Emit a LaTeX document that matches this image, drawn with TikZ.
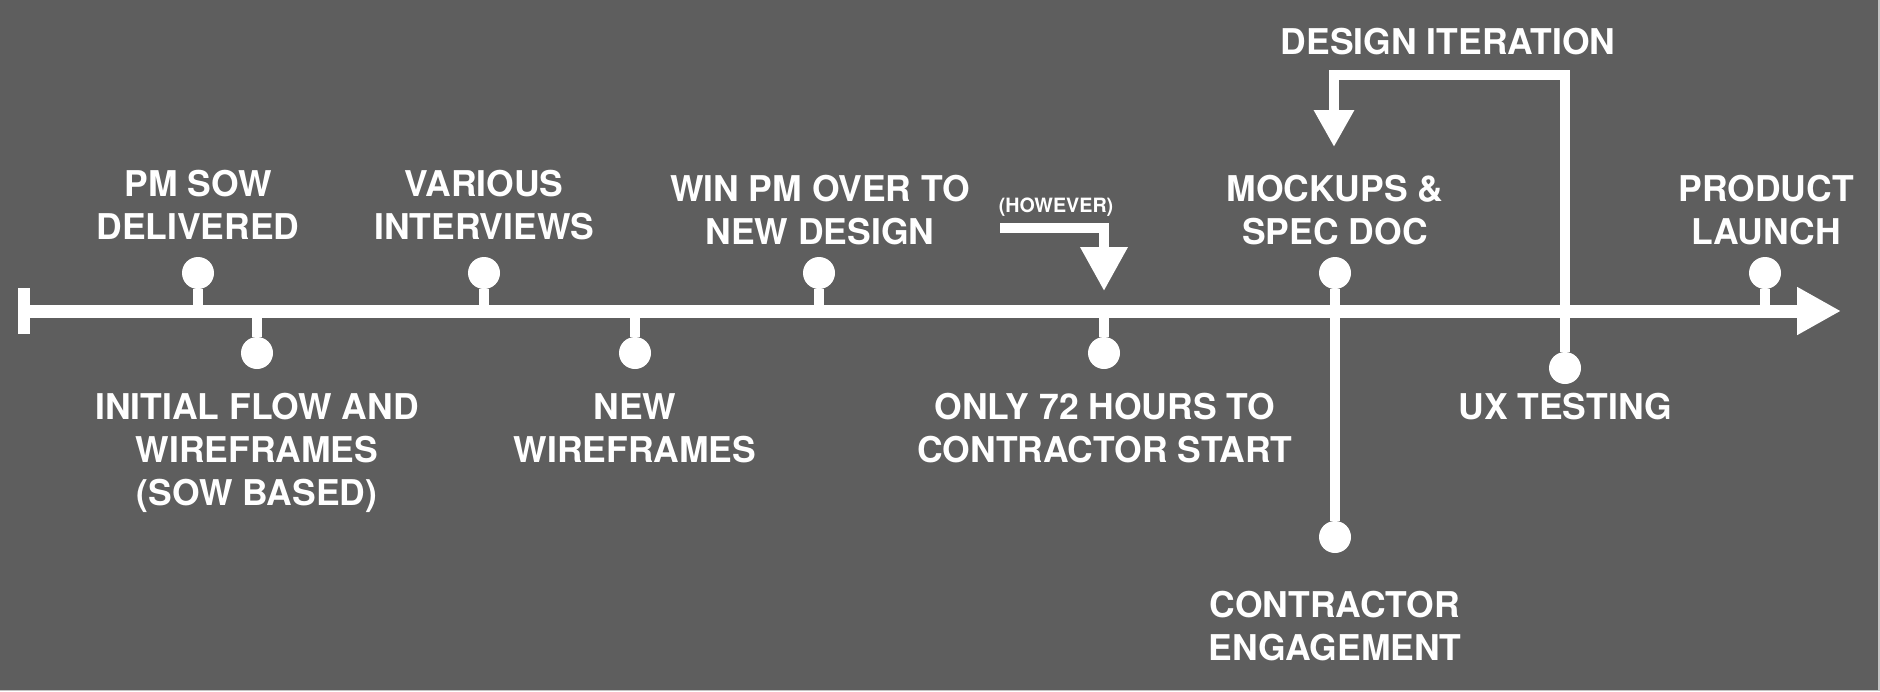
\documentclass[tikz,border=0pt]{standalone}
\usepackage{fontspec}
\setmainfont{TeX Gyre Heros}
\usetikzlibrary{arrows.meta}
\definecolor{bg}{HTML}{5E5E5E}
\definecolor{edgegray}{HTML}{C4C4C4}
\begin{document}
\begin{tikzpicture}[x=0.5pt,y=-0.5pt,
  lbl/.style={text=white, font=\fontsize{17.75}{21.5}\selectfont\bfseries, align=center, anchor=base, inner sep=0pt},
  smalllbl/.style={text=white, font=\fontsize{9.85}{12}\selectfont\bfseries, anchor=base, inner sep=0pt},
  dot/.style={circle, fill=white, minimum size=16pt, inner sep=0pt},
  stem/.style={draw=white, line width=5pt},
  axisline/.style={draw=white, line width=6.5pt, -{Triangle[length=22pt, width=22.5pt]}},
  bigarrow/.style={draw=white, line width=5pt, -{Triangle[length=22pt, width=22.5pt]}},
  looparrow/.style={draw=white, line width=5pt, -{Triangle[length=18.5pt, width=19pt]}},
]
\useasboundingbox (0,0) rectangle (1880,691);
\fill[bg] (0,0) rectangle (1880,691);
\fill[edgegray] (0,689.5) rectangle (1880,691);
\fill[edgegray] (1877.5,0) rectangle (1880,691);

% axis
\node[fill=white, minimum width=6pt, minimum height=23pt, inner sep=0pt] (startbar) at (24,311) {};
\coordinate (axisend) at (1841,311);
\draw[axisline] (startbar.center) -- (axisend);
\coordinate (axisy) at (0,311);

% dots
\node[dot] (d1) at (198,273) {};
\node[dot] (d2) at (257,353) {};
\node[dot] (d3) at (484,273) {};
\node[dot] (d4) at (635,353) {};
\node[dot] (d5) at (819,273) {};
\node[dot] (d6) at (1104,353) {};
\node[dot] (d7) at (1335,273) {};
\node[dot] (d8) at (1335,537) {};
\node[dot] (d9) at (1565,368) {};
\node[dot] (d10) at (1765,273) {};

% stems
\foreach \d in {d1,d2,d3,d4,d5,d6,d10} \draw[stem] (\d) -- (\d |- axisy);
\draw[stem] (d7) -- (d8);

% design iteration loop
\coordinate (loopcorner) at (1565,74.5);
\coordinate (looptip) at (1334,147);
\draw[looparrow] (d9) -- (loopcorner) -| (looptip);

% however arrow
\coordinate (hwstart) at (1000,228);
\coordinate (hwtip) at (1104,291);
\draw[bigarrow] (hwstart) -| (hwtip);

% labels above (anchored at the baseline of the last line)
\node[lbl] (t1) at (198,239) {PM SOW\\DELIVERED};
\node[lbl] (t3) at (484,239) {VARIOUS\\INTERVIEWS};
\node[lbl] (t5) at (820,244) {WIN PM OVER TO\\NEW DESIGN};
\node[smalllbl] (thw) at (1056,212) {(HOWEVER)};
\node[lbl] (t7) at (1335,244) {MOCKUPS \&\\SPEC DOC};
\node[lbl] (t10) at (1766,244) {PRODUCT\\LAUNCH};
\node[lbl] (tdi) at (1448,54) {DESIGN ITERATION};

% labels below
\node[lbl] (t2) at (257,505) {INITIAL FLOW AND\\WIREFRAMES\\(SOW BASED)};
\node[lbl] (t4) at (635,462) {NEW\\WIREFRAMES};
\node[lbl] (t6) at (1105,462) {ONLY 72 HOURS TO\\CONTRACTOR START};
\node[lbl] (t9) at (1565,419) {UX TESTING};
\node[lbl] (t8) at (1335,660) {CONTRACTOR\\ENGAGEMENT};
\end{tikzpicture}
\end{document}
